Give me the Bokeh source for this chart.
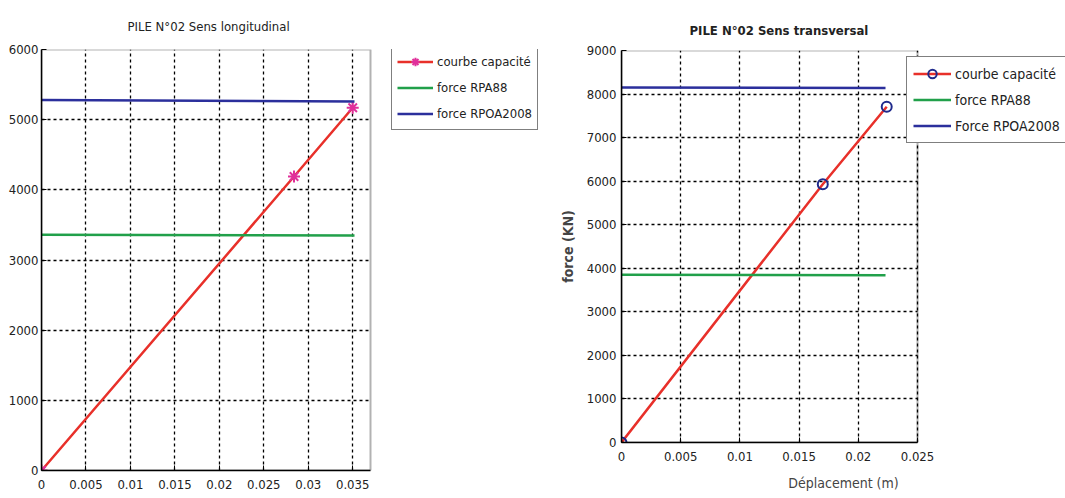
from bokeh.plotting import figure
from bokeh.layouts import row
from bokeh.models import Legend, LegendItem, FixedTicker, Range1d, BoxAnnotation
from bokeh.embed import file_html
from bokeh.resources import INLINE

# ---- data: left chart (longitudinal) ----
long_disp = [0.0, 0.0284, 0.0350]
long_force = [0, 4190, 5170]
long_ref_disp = [0.0, 0.0352]
long_rpa88 = [3360, 3350]
long_rpoa2008 = [5280, 5260]
long_xticks = [0, 0.005, 0.01, 0.015, 0.02, 0.025, 0.03, 0.035]
long_xlabels = ["0", "0.005", "0.01", "0.015", "0.02", "0.025", "0.03", "0.035"]
long_yticks = [0, 1000, 2000, 3000, 4000, 5000, 6000]
long_ylabels = ["0", "1000", "2000", "3000", "4000", "5000", "6000"]
long_xmax, long_ymax = 0.037, 6000

# ---- data: right chart (transversal) ----
trans_disp = [0.0, 0.0170, 0.0224]
trans_force = [0, 5930, 7710]
trans_ref_disp = [0.0, 0.0223]
trans_rpa88 = [3850, 3840]
trans_rpoa2008 = [8150, 8140]
trans_xticks = [0, 0.005, 0.01, 0.015, 0.02, 0.025]
trans_xlabels = ["0", "0.005", "0.01", "0.015", "0.02", "0.025"]
trans_yticks = [0, 1000, 2000, 3000, 4000, 5000, 6000, 7000, 8000, 9000]
trans_ylabels = ["0", "1000", "2000", "3000", "4000", "5000", "6000", "7000", "8000", "9000"]
trans_xmax, trans_ymax = 0.025, 9000

FONT = "DejaVu Sans Condensed"
RED = "#e8302a"
GREEN = "#21a04a"
BLUE = "#2b2f9c"


def make_fig(width, left, top, bottom, box_px, xmax, ymax, title, **kw):
    # the figure's frame extends to the right edge so the legend can sit beside the axes box
    frame_px = width - left
    p = figure(width=width, height=498, output_backend="svg", toolbar_location=None,
               x_range=Range1d(0, xmax * frame_px / box_px), y_range=Range1d(0, ymax),
               title=title, min_border_left=left, min_border_right=0,
               min_border_top=top, min_border_bottom=bottom, **kw)
    p.frame_align = False
    p.outline_line_color = None
    p.add_layout(BoxAnnotation(left=0, right=xmax, bottom=0, top=ymax, fill_alpha=0,
                               line_color="black", line_width=2, level="overlay"))
    return p


def style(p, xticks, xlabels, yticks, ylabels, xmax):
    for ax in (p.xaxis[0], p.yaxis[0]):
        ax.axis_line_color = "black"
        ax.axis_line_width = 1.5
        ax.major_tick_in = 5
        ax.major_tick_out = 0
        ax.minor_tick_line_color = None
        ax.major_label_text_font = FONT
        ax.major_label_text_font_size = "13px"
        ax.major_label_text_color = "#222222"
    p.xaxis[0].bounds = (0, xmax)
    p.xaxis[0].ticker = FixedTicker(ticks=xticks)
    p.xaxis[0].major_label_overrides = {t: l for t, l in zip(xticks, xlabels)}
    p.yaxis[0].ticker = FixedTicker(ticks=yticks)
    p.yaxis[0].major_label_overrides = {t: l for t, l in zip(yticks, ylabels)}
    for g in (p.xgrid[0], p.ygrid[0]):
        g.grid_line_color = "black"
        g.grid_line_dash = "3 3"
        g.grid_line_width = 1.3
    p.ygrid[0].cross_bounds = (0, xmax)
    p.title.text_font = FONT
    p.title.text_font_size = "13px"
    p.title.align = "left"
    p.title.text_color = "#222222"


# ---- left figure ----
p1 = make_fig(540, 41, 42, 28, 329, long_xmax, long_ymax, "PILE N°02 Sens longitudinal")
style(p1, long_xticks, long_xlabels, long_yticks, long_ylabels, long_xmax)
p1.title.text_font_style = "normal"
p1.title.standoff = 32
p1.title.offset = 86
p1.yaxis[0].major_label_standoff = 3
p1.xaxis[0].major_label_standoff = 9

l1_cap = p1.line(long_disp, long_force, color=RED, line_width=2.5)
s1_cap = p1.scatter(long_disp, long_force, marker="asterisk", size=12, line_color="#e0309a", line_width=2)
l1_rpa = p1.line(long_ref_disp, long_rpa88, color=GREEN, line_width=2.5)
l1_rpoa = p1.line(long_ref_disp, long_rpoa2008, color=BLUE, line_width=2.5)

leg1 = Legend(items=[
    LegendItem(label="courbe capacité", renderers=[l1_cap, s1_cap]),
    LegendItem(label="force RPA88", renderers=[l1_rpa]),
    LegendItem(label="force RPOA2008", renderers=[l1_rpoa]),
], location=(350, 340))

# ---- right figure ----
p2 = make_fig(525, 81, 50, 56, 296, trans_xmax, trans_ymax, "PILE N°02 Sens transversal",
              x_axis_label="Déplacement (m)", y_axis_label="force (KN)")
style(p2, trans_xticks, trans_xlabels, trans_yticks, trans_ylabels, trans_xmax)
p2.title.text_font_style = "bold"
p2.title.standoff = 26
p2.title.offset = 68
p2.yaxis[0].major_label_standoff = 5
p2.xaxis[0].major_label_standoff = 9
p2.xaxis[0].axis_label_text_font = FONT
p2.xaxis[0].axis_label_text_font_size = "14px"
p2.xaxis[0].axis_label_text_font_style = "normal"
p2.xaxis[0].axis_label_standoff = 11
p2.yaxis[0].axis_label_text_font = FONT
p2.yaxis[0].axis_label_text_font_size = "14px"
p2.yaxis[0].axis_label_text_font_style = "bold"
p2.yaxis[0].axis_label_standoff = 8

l2_cap = p2.line(trans_disp, trans_force, color=RED, line_width=2.5)
s2_cap = p2.scatter(trans_disp, trans_force, marker="circle", size=10, line_color="#1f2a8c",
                    fill_color=None, line_width=2)
l2_rpa = p2.line(trans_ref_disp, trans_rpa88, color=GREEN, line_width=2.5)
l2_rpoa = p2.line(trans_ref_disp, trans_rpoa2008, color=BLUE, line_width=2.5)

leg2 = Legend(items=[
    LegendItem(label="courbe capacité", renderers=[l2_cap, s2_cap]),
    LegendItem(label="force RPA88", renderers=[l2_rpa]),
    LegendItem(label="Force RPOA2008", renderers=[l2_rpoa]),
], location=(285, 299))

for leg in (leg1, leg2):
    leg.label_text_font = FONT
    leg.label_text_font_size = "14px"
    leg.label_text_color = "#222222"
    leg.glyph_width = 38
    leg.glyph_height = 21
    leg.spacing = 5
    leg.padding = 6
    leg.label_standoff = 4
    leg.border_line_color = "black"
    leg.border_line_width = 1.5
    leg.background_fill_color = "white"
    leg.background_fill_alpha = 1.0

leg1.label_text_font_size = "13px"
leg1.glyph_width = 36
leg1.padding = 5

p1.add_layout(leg1, "center")
p2.add_layout(leg2, "center")

layout = row(p1, p2)
open("out.html", "w").write(file_html(layout, INLINE))
